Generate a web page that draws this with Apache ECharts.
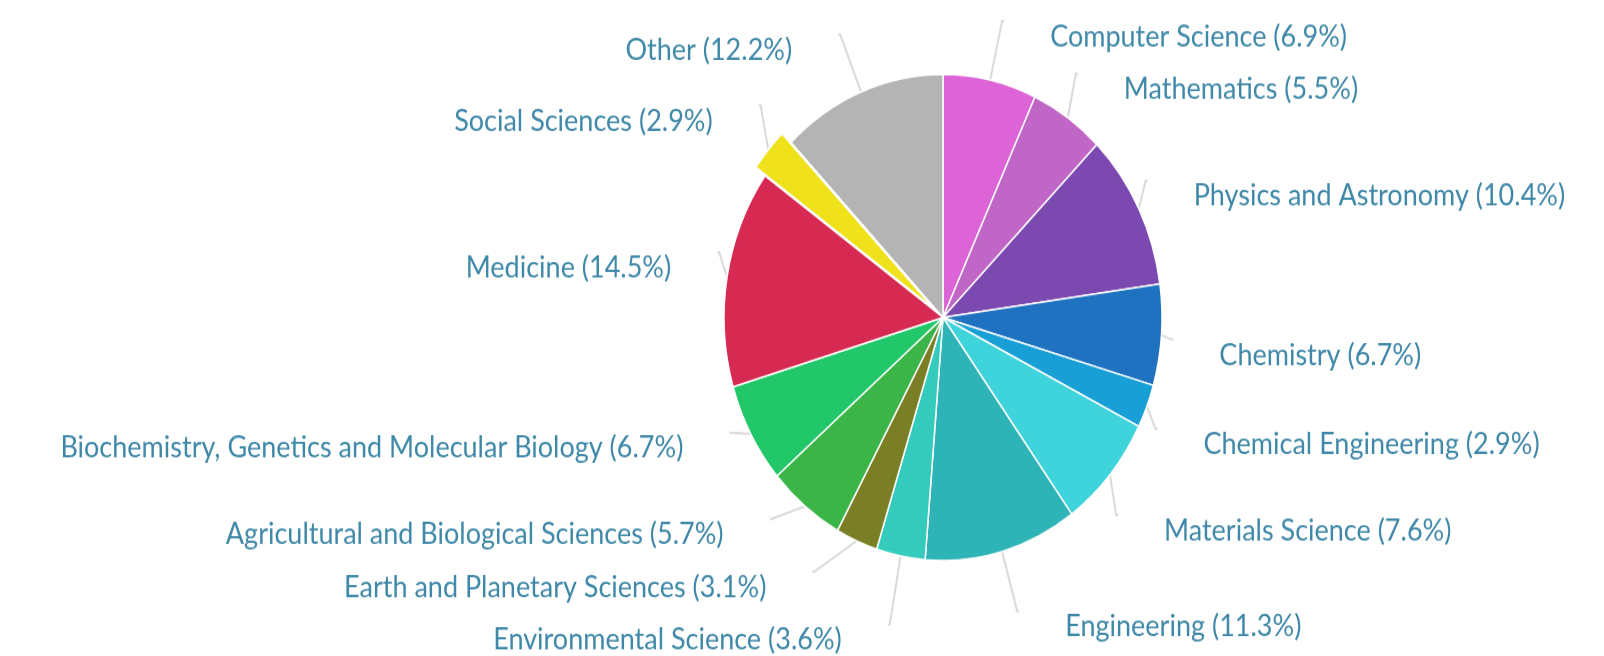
<!DOCTYPE html>
<html>
<head>
<meta charset="utf-8">
<script src="https://cdn.jsdelivr.net/npm/echarts@6/dist/echarts.min.js"></script>
<style>
html,body{margin:0;padding:0;background:#fff;overflow:hidden;}
#wrap{width:1604px;height:656px;overflow:hidden;}
#chart{width:1604px;height:591px;transform:scaleY(1.11);transform-origin:0 0;}
</style>
</head>
<body>
<div id="wrap"><div id="chart"></div></div>
<script>
const categories = [
  "Computer Science", "Mathematics", "Physics and Astronomy", "Chemistry",
  "Chemical Engineering", "Materials Science", "Engineering",
  "Environmental Science", "Earth and Planetary Sciences",
  "Agricultural and Biological Sciences",
  "Biochemistry, Genetics and Molecular Biology", "Medicine",
  "Social Sciences", "Other"
];
const shares = [6.9, 5.5, 10.4, 6.7, 2.9, 7.6, 11.3, 3.6, 3.1, 5.7, 6.7, 14.5, 2.9, 12.2];
const colors = [
  "#dd64d6", "#c066c6", "#7b49b0", "#1f72c0", "#179fd6", "#3fd3dc",
  "#2eb4b6", "#34cbbd", "#7a7f25", "#3cb548", "#22c76a", "#d72a52",
  "#efe11a", "#b4b4b4"
];
const explodedCategory = "Social Sciences";

const chart = echarts.init(document.getElementById('chart'), null, {renderer: 'canvas'});
chart.setOption({
  animation: false,
  backgroundColor: '#ffffff',
  series: [{
    type: 'pie',
    center: [943, 286],
    radius: [0, 219],
    startAngle: 90,
    clockwise: true,
    selectedMode: 'single',
    selectedOffset: 12,
    avoidLabelOverlap: true,
    itemStyle: {borderColor: '#ffffff', borderWidth: 1.5},
    label: {
      show: true,
      position: 'outside',
      formatter: '{s|}\n{t|{b} ({c}%)}',
      distanceToLabelLine: 46,
      rich: {
        s: {fontSize: 10, lineHeight: 28},
        t: {color: '#3f88a8', fontFamily: 'Lato', fontSize: 27, lineHeight: 26}
      }
    },
    labelLine: {
      show: true,
      length: 56,
      length2: 2,
      smooth: false,
      lineStyle: {color: '#dadada', width: 2}
    },
    emphasis: {disabled: true},
    data: categories.map((n, i) => ({
      name: n,
      value: shares[i],
      selected: n === explodedCategory,
      itemStyle: {color: colors[i]}
    }))
  }]
});
</script>
</body>
</html>
